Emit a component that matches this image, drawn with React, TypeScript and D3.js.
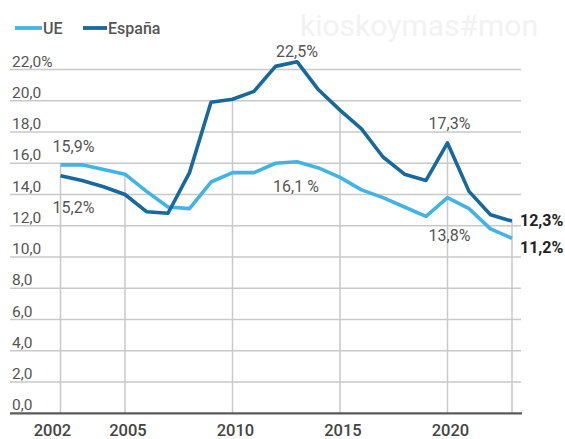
import React from "react";
import * as d3 from "d3";

const years = [2002, 2003, 2004, 2005, 2006, 2007, 2008, 2009, 2010, 2011, 2012, 2013, 2014, 2015, 2016, 2017, 2018, 2019, 2020, 2021, 2022, 2023];
const ueValues = [15.9, 15.9, 15.6, 15.3, 14.2, 13.2, 13.1, 14.8, 15.4, 15.4, 16.0, 16.1, 15.7, 15.1, 14.3, 13.8, 13.2, 12.6, 13.8, 13.1, 11.8, 11.2];
const espValues = [15.2, 14.9, 14.5, 14.0, 12.9, 12.8, 15.4, 19.9, 20.1, 20.6, 22.2, 22.5, 20.7, 19.4, 18.2, 16.4, 15.3, 14.9, 17.3, 14.2, 12.7, 12.3];
const yTicks = [0, 2, 4, 6, 8, 10, 12, 14, 16, 18, 20, 22];
const xTicks = [2002, 2005, 2010, 2015, 2020];
const dropYears = [2002, 2005, 2010, 2015, 2020, 2023];
const seriesNames = ["UE", "España"];

type Ann = { year: number; value: number; text: string; bold?: boolean };
const annotations: Ann[] = [
  { year: 2002, value: 15.9, text: "15,9%" },
  { year: 2002, value: 15.2, text: "15,2%" },
  { year: 2013, value: 22.5, text: "22,5%" },
  { year: 2013, value: 16.1, text: "16,1 %" },
  { year: 2020, value: 17.3, text: "17,3%" },
  { year: 2020, value: 13.8, text: "13,8%" },
  { year: 2023, value: 12.3, text: "12,3%", bold: true },
  { year: 2023, value: 11.2, text: "11,2%", bold: true },
];

const W = 565;
const H = 439;
const UE_COLOR = "#42b4e4";
const ES_COLOR = "#17699d";
const FONT = "Roboto, 'Noto Sans', sans-serif";

export default function App() {
  const x = d3.scaleLinear().domain([2002, 2023]).range([60.5, 512]);
  const y = d3.scaleLinear().domain([0, 22]).range([413.3, 69.5]);
  const line = d3
    .line<number>()
    .x((_, i) => x(years[i]))
    .y((d) => y(d));

  const gridLeft = 10;
  const gridRight = 521;

  const annPos = (a: Ann, i: number) => {
    const px = x(a.year);
    const py = y(a.value);
    switch (i) {
      case 0: return { x: px - 8, y: py - 13, anchor: "start" };
      case 1: return { x: px - 8, y: py + 37, anchor: "start" };
      case 2: return { x: px, y: py - 5, anchor: "middle" };
      case 3: return { x: px - 1, y: py + 30, anchor: "middle" };
      case 4: return { x: px + 2, y: py - 14, anchor: "middle" };
      case 5: return { x: px + 2, y: py + 43, anchor: "middle" };
      case 6: return { x: px + 8, y: py + 5, anchor: "start" };
      default: return { x: px + 8, y: py + 15, anchor: "start" };
    }
  };

  return (
    <svg width={W} height={H} style={{ position: "absolute", left: 0, top: 0, background: "#fff" }} fontFamily={FONT}>
      <rect width={W} height={H} fill="#fff" />
      <text x={300} y={36} fontSize={30} fill="#f2f2f2" fontFamily={FONT}>kioskoymas#mon</text>

      <g>
        <line x1={15} x2={42} y1={28} y2={28} stroke={UE_COLOR} strokeWidth={3.8} />
        <text x={43} y={33.5} fontSize={16} fontWeight={500} fill="#555">{seriesNames[0]}</text>
        <line x1={83} x2={107} y1={28} y2={28} stroke={ES_COLOR} strokeWidth={3.8} />
        <text x={108} y={33.5} fontSize={16} fontWeight={500} fill="#555">{seriesNames[1]}</text>
      </g>

      {yTicks.map((t) =>
        t === 0 ? null : (
          <line key={"g" + t} x1={gridLeft} x2={gridRight} y1={y(t)} y2={y(t)} stroke="#c9c9c9" strokeWidth={1.5} />
        )
      )}
      {dropYears.map((yr) => {
        const i = years.indexOf(yr);
        const top = Math.max(ueValues[i], espValues[i]);
        return <line key={"v" + yr} x1={x(yr)} x2={x(yr)} y1={y(top)} y2={y(0)} stroke="#c9c9c9" strokeWidth={1.5} />;
      })}
      <line x1={gridLeft} x2={gridRight + 1} y1={y(0)} y2={y(0)} stroke="#5a5a5a" strokeWidth={2.2} />

      {yTicks.map((t) => (
        <text key={"t" + t} x={12} y={y(t) - 3} fontSize={15.5} fill="#555">
          {t.toFixed(1).replace(".", ",") + (t === 22 ? "%" : "")}
        </text>
      ))}
      {xTicks.map((t) => (
        <text key={"x" + t} x={x(t) + (t === 2002 ? -8 : 3)} y={436} fontSize={16.5} fontWeight={500} fill="#444" textAnchor="middle">
          {t}
        </text>
      ))}

      <path d={line(ueValues) || ""} fill="none" stroke={UE_COLOR} strokeWidth={3.6} strokeLinejoin="round" />
      <path d={line(espValues) || ""} fill="none" stroke={ES_COLOR} strokeWidth={3.6} strokeLinejoin="round" />

      {annotations.map((a, i) => {
        const p = annPos(a, i);
        return (
          <text
            key={"a" + i}
            x={p.x}
            y={p.y}
            fontSize={16}
            fontWeight={a.bold ? 700 : 400}
            fill={a.bold ? "#222" : "#555"}
            textAnchor={p.anchor as any}
          >
            {a.text}
          </text>
        );
      })}
    </svg>
  );
}
